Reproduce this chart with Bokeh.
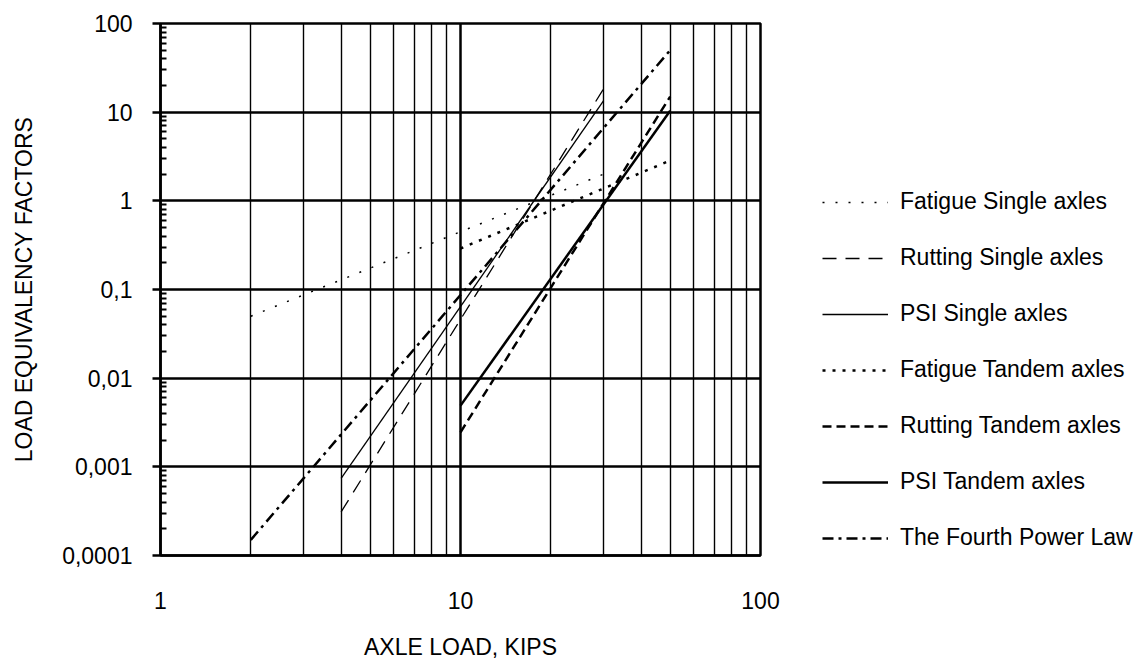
from bokeh.plotting import figure
from bokeh.models import FixedTicker, CustomJSTickFormatter, Legend, LegendItem, Range1d
from bokeh.embed import file_html
from bokeh.resources import INLINE

# ---- data ----
fatigue_single_x = [2, 30]
fatigue_single_y = [0.05, 2.0]
rutting_single_x = [4, 30]
rutting_single_y = [0.00031, 18.4]
psi_single_x = [4, 30]
psi_single_y = [0.00074, 13.5]
fatigue_tandem_x = [10, 50]
fatigue_tandem_y = [0.29, 2.85]
rutting_tandem_x = [10, 50]
rutting_tandem_y = [0.00245, 15.0]
psi_tandem_x = [10, 50]
psi_tandem_y = [0.0049, 10.4]
fourth_power_x = [2, 50]
fourth_power_y = [0.00015, 50]

series_names = ["Fatigue Single axles", "Rutting Single axles", "PSI Single axles",
                "Fatigue Tandem axles", "Rutting Tandem axles", "PSI Tandem axles",
                "The Fourth Power Law"]

x_ticks = [1, 10, 100]
x_tick_labels = ["1", "10", "100"]
y_ticks = [0.0001, 0.001, 0.01, 0.1, 1, 10, 100]
y_tick_labels = ["0,0001", "0,001", "0,01", "0,1", "1", "10", "100"]

x_minor = [m * 10.0 ** e for e in range(0, 2) for m in range(2, 10)]
y_minor = [m * 10.0 ** e for e in range(-4, 2) for m in range(2, 10)]

FONT = "Liberation Sans"

p = figure(frame_width=600, frame_height=532, x_axis_type="log", y_axis_type="log",
           x_range=Range1d(1, 100), y_range=Range1d(0.0001, 100),
           output_backend="svg", toolbar_location=None,
           min_border_left=160, min_border_right=0,
           min_border_top=23, min_border_bottom=106)
p.background_fill_color = "white"
p.border_fill_color = "white"
p.outline_line_color = "black"
p.outline_line_width = 2.5

xt = FixedTicker(ticks=x_ticks, minor_ticks=x_minor)
yt = FixedTicker(ticks=y_ticks, minor_ticks=y_minor)
p.xaxis.ticker = xt
p.yaxis.ticker = yt
p.xgrid.ticker = xt
p.ygrid.ticker = yt

fmt_code = """
let best = 0; let bd = Infinity;
for (let i = 0; i < t.length; i++) {
  const d = Math.abs(Math.log10(tick) - Math.log10(t[i]));
  if (d < bd) { bd = d; best = i; }
}
return l[best];
"""
p.xaxis.formatter = CustomJSTickFormatter(args=dict(t=x_ticks, l=x_tick_labels), code=fmt_code)
p.yaxis.formatter = CustomJSTickFormatter(args=dict(t=y_ticks, l=y_tick_labels), code=fmt_code)

p.xgrid.grid_line_color = "black"
p.xgrid.grid_line_width = 2.5
p.xgrid.minor_grid_line_color = "black"
p.xgrid.minor_grid_line_width = 1.4
p.ygrid.grid_line_color = "black"
p.ygrid.grid_line_width = 2.5
p.ygrid.minor_grid_line_color = None

for ax in (p.xaxis[0], p.yaxis[0]):
    ax.axis_line_color = "black"
    ax.axis_line_width = 2.5
    ax.major_label_text_font = FONT
    ax.major_label_text_font_size = "23px"
    ax.major_label_text_color = "black"
    ax.axis_label_text_font = FONT
    ax.axis_label_text_font_size = "23px"
    ax.axis_label_text_font_style = "normal"
    ax.axis_label_text_color = "black"

p.xaxis.axis_label = "AXLE LOAD, KIPS"
p.xaxis.major_tick_out = 0
p.xaxis.major_tick_in = 0
p.xaxis.minor_tick_out = 0
p.xaxis.minor_tick_in = 0
p.xaxis.major_label_standoff = 36
p.xaxis.axis_label_standoff = 22

p.yaxis.axis_label = "LOAD EQUIVALENCY FACTORS"
p.yaxis.major_tick_out = 8
p.yaxis.major_tick_in = 0
p.yaxis.major_tick_line_width = 2.5
p.yaxis.minor_tick_in = 6
p.yaxis.minor_tick_out = 0
p.yaxis.minor_tick_line_width = 2
p.yaxis.major_label_standoff = 20
p.yaxis.axis_label_standoff = 22

r1 = p.line(fatigue_single_x, fatigue_single_y, line_color="black", line_width=1.5, line_dash="2 11")
r2 = p.line(rutting_single_x, rutting_single_y, line_color="black", line_width=1.3, line_dash="14 9")
r3 = p.line(psi_single_x, psi_single_y, line_color="black", line_width=1.3)
r4 = p.line(fatigue_tandem_x, fatigue_tandem_y, line_color="black", line_width=2.5, line_dash="3 7")
r5 = p.line(rutting_tandem_x, rutting_tandem_y, line_color="black", line_width=2.5, line_dash="9 5")
r6 = p.line(psi_tandem_x, psi_tandem_y, line_color="black", line_width=2.5)
r7 = p.line(fourth_power_x, fourth_power_y, line_color="black", line_width=2.5, line_dash="11 5 3 5")

items = [LegendItem(label=n, renderers=[r]) for n, r in zip(series_names, [r1, r2, r3, r4, r5, r6, r7])]
legend = Legend(items=items, location=(62, 4), margin=0, padding=0,
                border_line_color=None, background_fill_alpha=0,
                glyph_width=66, glyph_height=24, label_height=24,
                label_standoff=12, spacing=29,
                label_text_font=FONT, label_text_font_size="23px",
                label_text_color="black")
p.add_layout(legend, "right")

open("out.html", "w").write(file_html(p, INLINE))
